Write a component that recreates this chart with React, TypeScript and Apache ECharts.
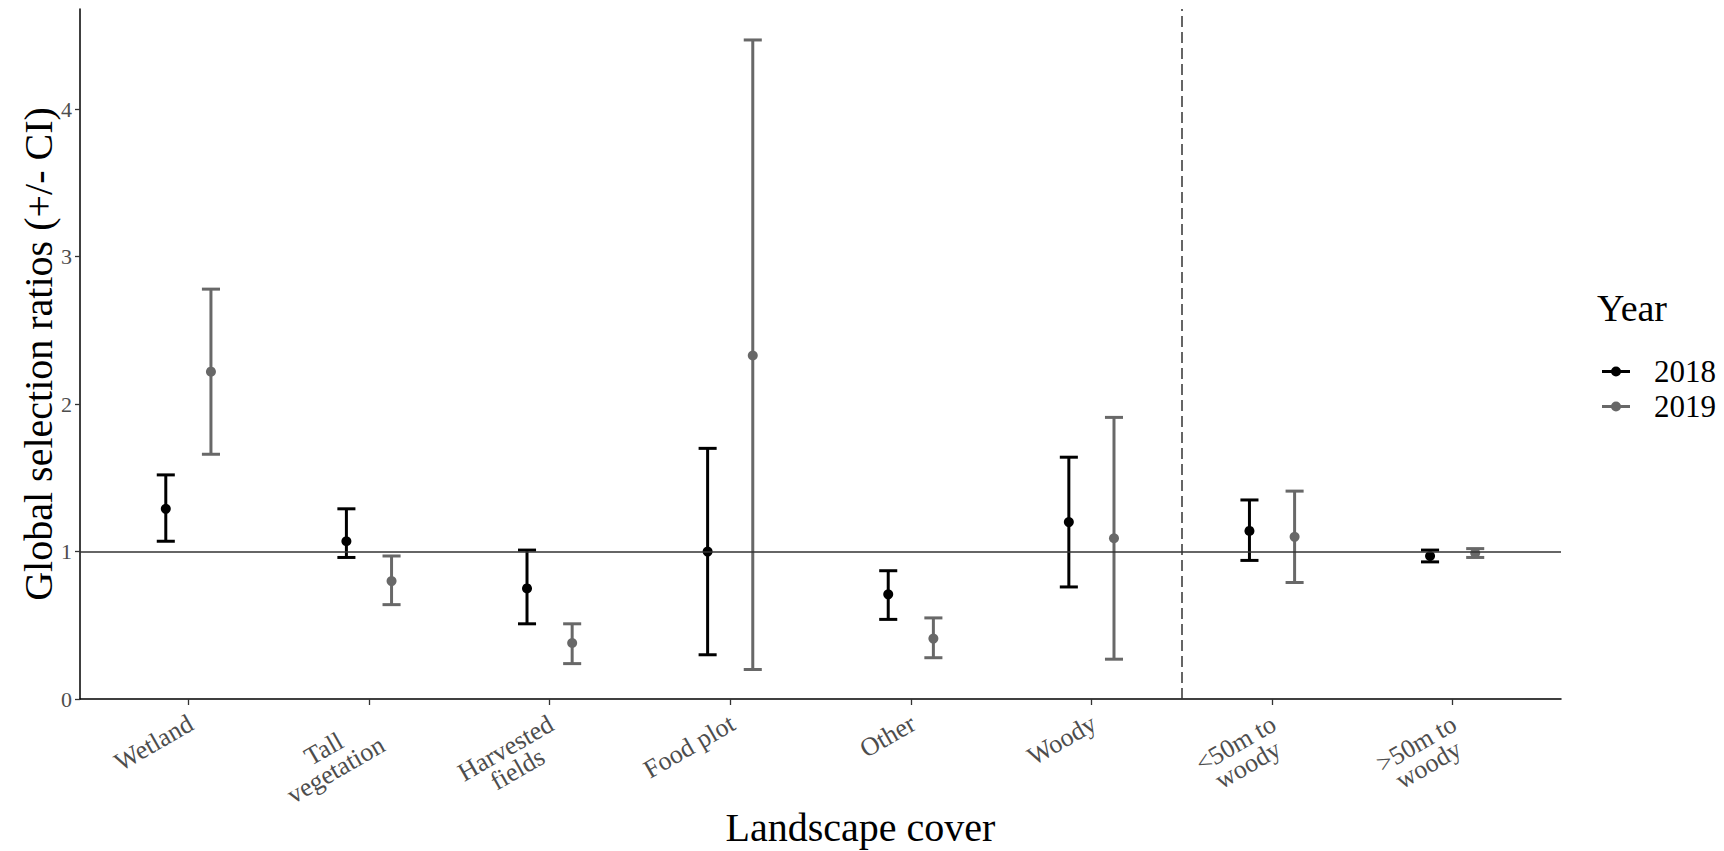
import React, { useEffect, useRef } from "react";
import * as echarts from "echarts";

const categories = [
  "Wetland",
  "Tall\nvegetation",
  "Harvested\nfields",
  "Food plot",
  "Other",
  "Woody",
  "<50m to\nwoody",
  ">50m to\nwoody",
];
const years = ["2018", "2019"];
const est2018 = [1.29, 1.07, 0.75, 1.0, 0.71, 1.2, 1.14, 0.97];
const lower2018 = [1.07, 0.96, 0.51, 0.3, 0.54, 0.76, 0.94, 0.93];
const upper2018 = [1.52, 1.29, 1.01, 1.7, 0.87, 1.64, 1.35, 1.01];
const est2019 = [2.22, 0.8, 0.38, 2.33, 0.41, 1.09, 1.1, 0.99];
const lower2019 = [1.66, 0.64, 0.24, 0.2, 0.28, 0.27, 0.79, 0.96];
const upper2019 = [2.78, 0.97, 0.51, 4.47, 0.55, 1.91, 1.41, 1.02];
const yTicks = [0, 1, 2, 3, 4];
const referenceValue = 1;
const groupDivider = 5.5;

const FONT = '"Liberation Serif", "Times New Roman", serif';
const COLORS = ["#000000", "#686868"];
const DODGE = 0.125;
const CAP_HALF = 0.05;
const LABEL_SIZE = 26;
const LABEL_LH = 24;
const LEGEND_ICON =
  "path://M0,3.5 L28,3.5 L28,6.5 L0,6.5 Z M14,0 A5,5 0 1,1 14,10 A5,5 0 1,1 14,0 Z";

function measure(text: string, size: number): number {
  const c = document.createElement("canvas");
  const ctx = c.getContext("2d");
  if (!ctx) return text.length * size * 0.45;
  ctx.font = `${size}px "Liberation Serif"`;
  return ctx.measureText(text).width;
}

export default function App() {
  const ref = useRef<HTMLDivElement>(null);

  useEffect(() => {
    if (!ref.current) return;
    const chart = echarts.init(ref.current, null, { renderer: "svg" });

    const rich: Record<string, any> = {};
    categories.forEach((c, i) => {
      const lines = c.split("\n");
      const w = Math.max(...lines.map((l) => measure(l, LABEL_SIZE))) + 2;
      rich["c" + i] = {
        width: w,
        align: "center",
        fontSize: LABEL_SIZE,
        fontFamily: FONT,
        color: "#4d4d4d",
        lineHeight: LABEL_LH,
      };
    });

    const makeData = (est: number[], lo: number[], hi: number[], off: number) =>
      categories.map((_, i) => [i + off, lo[i], hi[i], est[i]]);

    const renderItem = (params: any, api: any) => {
      const x = api.value(0);
      const lo = api.value(1);
      const hi = api.value(2);
      const mid = api.value(3);
      const pLo = api.coord([x, lo]);
      const pHi = api.coord([x, hi]);
      const pMid = api.coord([x, mid]);
      const xl = api.coord([x - CAP_HALF, hi])[0];
      const xr = api.coord([x + CAP_HALF, hi])[0];
      const color = api.visual("color");
      const ls = { stroke: color, lineWidth: 3 };
      return {
        type: "group",
        children: [
          { type: "line", shape: { x1: pLo[0], y1: pLo[1], x2: pHi[0], y2: pHi[1] }, style: ls },
          { type: "line", shape: { x1: xl, y1: pHi[1], x2: xr, y2: pHi[1] }, style: ls },
          { type: "line", shape: { x1: xl, y1: pLo[1], x2: xr, y2: pLo[1] }, style: ls },
          { type: "circle", shape: { cx: pMid[0], cy: pMid[1], r: 5 }, style: { fill: color } },
        ],
      };
    };

    const option: any = {
      animation: false,
      backgroundColor: "#ffffff",
      color: COLORS,
      grid: {
        left: 80,
        top: 9,
        right: 163,
        bottom: 152,
        containLabel: false,
        outerBoundsMode: "none",
      },
      graphic: [
        {
          type: "text",
          left: 1597,
          top: 289,
          style: {
            text: "Year",
            fontSize: 38,
            fontFamily: FONT,
            fill: "#000",
          },
        },
      ],
      legend: {
        orient: "vertical",
        left: 1597,
        top: 349,
        itemWidth: 28,
        itemHeight: 10,
        itemGap: 0,
        selectedMode: false,
        textStyle: {
          fontFamily: FONT,
          fontSize: 31,
          color: "#000",
          lineHeight: 35,
          padding: [0, 0, 0, 19],
        },
        data: years.map((y, i) => ({
          name: y,
          icon: LEGEND_ICON,
          itemStyle: { color: COLORS[i] },
        })),
      },
      xAxis: {
        type: "value",
        min: -0.6,
        max: 7.6,
        name: "Landscape cover",
        nameLocation: "middle",
        nameGap: 108,
        nameMoveOverlap: false,
        nameTextStyle: {
          fontFamily: FONT,
          fontSize: 40,
          color: "#000",
          padding: [0, 0, 0, 80],
        },
        axisLine: { show: true, onZero: false, lineStyle: { color: "#000", width: 1.5 } },
        axisTick: {
          show: true,
          length: 6,
          lineStyle: { color: "#333", width: 1.3 },
          customValues: categories.map((_, i) => i),
        },
        axisLabel: {
          rotate: 30,
          margin: 10,
          align: "right",
          verticalAlign: "top",
          padding: [0, 4, 0, 0],
          fontSize: LABEL_SIZE,
          fontFamily: FONT,
          color: "#4d4d4d",
          lineHeight: LABEL_LH,
          customValues: categories.map((_, i) => i),
          formatter: (v: number) => {
            const i = Math.round(v);
            const c = categories[i];
            if (c === undefined) return "";
            if (c.indexOf("\n") < 0) return c;
            return c
              .split("\n")
              .map((l) => `{c${i}|${l}}`)
              .join("\n");
          },
          rich,
        },
        splitLine: { show: false },
      },
      yAxis: {
        type: "value",
        min: 0,
        max: 4.68,
        name: "Global selection ratios (+/- CI)",
        nameLocation: "middle",
        nameRotate: 90,
        nameGap: 22,
        nameMoveOverlap: false,
        nameTextStyle: { fontFamily: FONT, fontSize: 40, color: "#000" },
        axisLine: { show: true, onZero: false, lineStyle: { color: "#000", width: 1.5 } },
        axisTick: {
          show: true,
          length: 5,
          lineStyle: { color: "#333", width: 1.3 },
          customValues: yTicks,
        },
        axisLabel: {
          margin: 8,
          fontSize: 22,
          fontFamily: FONT,
          color: "#4d4d4d",
          customValues: yTicks,
        },
        splitLine: { show: false },
      },
      series: [
        {
          name: years[0],
          type: "custom",
          renderItem,
          itemStyle: { color: COLORS[0] },
          encode: { x: 0, y: [1, 2, 3] },
          data: makeData(est2018, lower2018, upper2018, -DODGE),
          z: 3,
          markLine: {
            silent: true,
            symbol: ["none", "none"],
            label: { show: false },
            animation: false,
            data: [
              { yAxis: referenceValue, lineStyle: { type: "solid", color: "#333", width: 1.5 } },
              { xAxis: groupDivider, lineStyle: { type: [11, 5], color: "#333", width: 1.5 } },
            ],
          },
        },
        {
          name: years[1],
          type: "custom",
          renderItem,
          itemStyle: { color: COLORS[1] },
          encode: { x: 0, y: [1, 2, 3] },
          data: makeData(est2019, lower2019, upper2019, DODGE),
          z: 2,
        },
      ],
    };

    chart.setOption(option);
    return () => chart.dispose();
  }, []);

  return (
    <div
      ref={ref}
      style={{ position: "fixed", left: 0, top: 0, width: 1724, height: 851, background: "#fff" }}
    />
  );
}
